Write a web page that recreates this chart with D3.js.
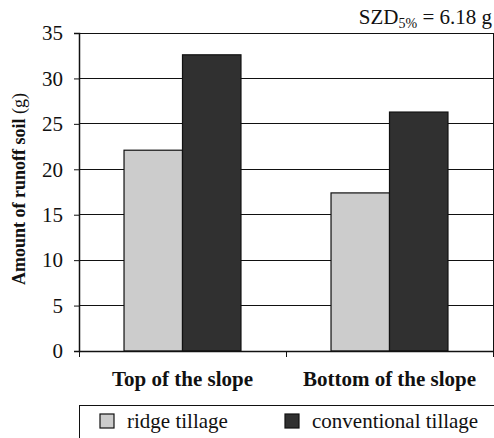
<!DOCTYPE html>
<html><head><meta charset="utf-8">
<script src="https://cdn.jsdelivr.net/npm/d3@7"></script>
<style>body{margin:0;background:#fff}svg{display:block}text{font-family:"Liberation Serif","Times New Roman",serif}</style>
</head><body>
<svg id="c" width="494" height="438"></svg>
<script>
const categories = ["Top of the slope", "Bottom of the slope"];
const seriesNames = ["ridge tillage", "conventional tillage"];
const ridgeValues = [22.1, 17.4];
const conventionalValues = [32.6, 26.3];
const yTicks = [0, 5, 10, 15, 20, 25, 30, 35];
const colors = ["#cccccc", "#303030"];

const svg = d3.select("#c");
const m = {l: 79, r: 493, t: 33, b: 351};
const x = d3.scaleBand().domain(categories).range([m.l, m.r]).paddingInner(0).paddingOuter(0);
const xs = d3.scaleBand().domain(seriesNames).range([0, x.bandwidth()]).paddingInner(0).paddingOuter(0.77);
const y = d3.scaleLinear().domain([0, 35]).range([m.b, m.t]);

// gridlines
svg.append("g").selectAll("line").data(yTicks.filter(d => d > 0)).join("line")
  .attr("x1", m.l).attr("x2", m.r).attr("y1", d => y(d)).attr("y2", d => y(d))
  .attr("stroke", "#111").attr("stroke-width", 1).attr("shape-rendering", "crispEdges");
// right border
svg.append("line").attr("x1", m.r).attr("x2", m.r).attr("y1", m.t).attr("y2", m.b)
  .attr("stroke", "#111").attr("shape-rendering", "crispEdges");

const data = categories.map((c, i) => ({c, vals: [ridgeValues[i], conventionalValues[i]]}));
svg.append("g").selectAll("g").data(data).join("g")
  .attr("transform", d => `translate(${x(d.c)},0)`)
  .selectAll("rect").data(d => d.vals.map((v, j) => ({v, j})))
  .join("rect")
  .attr("x", d => xs(seriesNames[d.j]))
  .attr("width", xs.bandwidth())
  .attr("y", d => y(d.v)).attr("height", d => y(0) - y(d.v))
  .attr("fill", d => colors[d.j]).attr("stroke", "#111").attr("stroke-width", 1.2);

// y axis
const ya = svg.append("g").attr("transform", `translate(${m.l},0)`)
  .call(d3.axisLeft(y).tickValues(yTicks).tickSize(5).tickPadding(11));
ya.select(".domain").attr("stroke", "#111").attr("stroke-width", 1.5);
ya.selectAll("line").attr("stroke", "#111");
ya.selectAll("text").attr("font-size", 21).attr("fill", "#111");

// x axis
const xa = svg.append("g").attr("transform", `translate(0,${m.b})`)
  .call(d3.axisBottom(x).tickSize(0).tickPadding(20));
xa.select(".domain").attr("stroke", "#111").attr("stroke-width", 1.5);
xa.selectAll("text").attr("font-size", 21).attr("font-weight", "bold").attr("fill", "#111");
// category separator ticks
const sepX = [m.l, x(categories[1]), m.r];
svg.append("g").selectAll("line").data(sepX)
  .join("line").attr("x1", d => d).attr("x2", d => d).attr("y1", m.b).attr("y2", m.b + 6)
  .attr("stroke", "#111").attr("shape-rendering", "crispEdges");

// y label
const yl = svg.append("text").attr("transform", "translate(25,189) rotate(-90)")
  .attr("text-anchor", "middle").attr("font-size", 18).attr("fill", "#111");
yl.append("tspan").attr("font-weight", "bold").text("Amount of runoff soil ");
yl.append("tspan").text("(g)");

// SZD annotation
const sz = svg.append("text").attr("x", 492).attr("y", 24).attr("text-anchor", "end")
  .attr("font-size", 21).attr("fill", "#111");
sz.append("tspan").text("SZD");
sz.append("tspan").attr("font-size", 14).attr("dy", 4).text("5%");
sz.append("tspan").attr("dy", -4).text(" = 6.18 g");

// legend
svg.append("rect").attr("x", 79.5).attr("y", 405.5).attr("width", 430).attr("height", 60)
  .attr("fill", "none").attr("stroke", "#111");
const legX = [100, 285];
const lg = svg.append("g").selectAll("g").data(seriesNames).join("g")
  .attr("transform", (d, i) => `translate(${legX[i]},414)`);
lg.append("rect").attr("width", 14).attr("height", 14).attr("fill", (d, i) => colors[i])
  .attr("stroke", "#111").attr("stroke-width", 1.2);
lg.append("text").attr("x", 27).attr("y", 14).attr("font-size", 21).attr("fill", "#111").text(d => d);
</script>
</body></html>
